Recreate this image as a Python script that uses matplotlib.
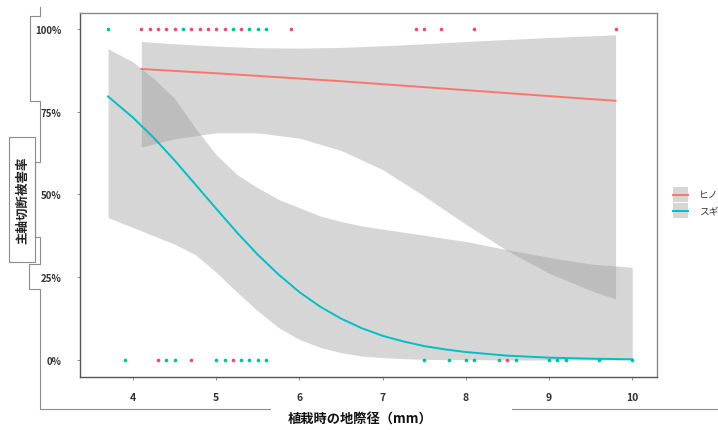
import matplotlib
matplotlib.use("Agg")
import matplotlib.pyplot as plt
from matplotlib.lines import Line2D
from matplotlib.patches import Rectangle

plt.rcParams['font.family'] = ['Noto Sans CJK JP', 'DejaVu Sans']

# ---- observations (0 = intact, 1 = main stem cut) ----
hinoki_cut_x = [4.1, 4.2, 4.3, 4.4, 4.5, 4.7, 4.8, 4.9, 5.0, 5.1, 5.3, 5.9,
                7.4, 7.5, 7.7, 8.1, 9.8]
hinoki_ok_x = [4.3, 4.7, 5.2, 8.5]
sugi_cut_x = [3.7, 4.6, 5.2, 5.4, 5.5, 5.6]
sugi_ok_x = [3.9, 4.4, 4.5, 5.0, 5.1, 5.3, 5.4, 5.5, 5.6, 7.5, 7.8, 8.0, 8.1,
             8.4, 8.6, 9.0, 9.1, 9.2, 9.6, 10.0]

# ---- fitted curves with confidence bands ----
hinoki_x = [4.1, 4.5, 5.0, 5.5, 6.0, 6.5, 7.0, 7.5, 8.0, 8.5, 9.0, 9.5, 9.8]
hinoki_fit = [0.879, 0.873, 0.866, 0.858, 0.850, 0.842, 0.833, 0.824, 0.815,
              0.806, 0.797, 0.788, 0.783]
hinoki_hi = [0.962, 0.955, 0.948, 0.943, 0.942, 0.944, 0.949, 0.955, 0.962,
             0.968, 0.974, 0.979, 0.982]
hinoki_lo = [0.643, 0.668, 0.686, 0.686, 0.670, 0.633, 0.575, 0.495, 0.410,
             0.330, 0.262, 0.210, 0.184]

sugi_x = [3.7, 4.0, 4.25, 4.5, 4.75, 5.0, 5.25, 5.5, 5.75, 6.0, 6.25, 6.5,
          6.75, 7.0, 7.25, 7.5, 7.75, 8.0, 8.5, 9.0, 9.5, 10.0]
sugi_fit = [0.796, 0.732, 0.671, 0.603, 0.530, 0.457, 0.385, 0.318, 0.258,
            0.205, 0.161, 0.125, 0.096, 0.073, 0.056, 0.042, 0.032, 0.024,
            0.013, 0.007, 0.004, 0.002]
sugi_hi = [0.940, 0.900, 0.850, 0.790, 0.700, 0.620, 0.560, 0.520, 0.485,
           0.460, 0.435, 0.418, 0.405, 0.395, 0.386, 0.377, 0.367, 0.358,
           0.333, 0.310, 0.290, 0.280]
sugi_lo = [0.430, 0.400, 0.375, 0.350, 0.318, 0.265, 0.205, 0.148, 0.098,
           0.062, 0.038, 0.022, 0.012, 0.007, 0.004, 0.002, 0.001, 0.001,
           0.0, 0.0, 0.0, 0.0]

yticks = [0, 0.25, 0.5, 0.75, 1.0]
ytick_labels = ['0%', '25%', '50%', '75%', '100%']
xticks = [4, 5, 6, 7, 8, 9, 10]
species = ['ヒノキ', 'スギ']

line_col = {'ヒノキ': '#F8766D', 'スギ': '#00BFC4'}
dot_col = {'ヒノキ': '#EC4C7C', 'スギ': '#00BF9C'}
band_col = '#999999'

W, H = 718, 431
fig = plt.figure(figsize=(W / 100, H / 100), dpi=100)
ax = fig.add_axes([80 / W, 1 - 378 / H, 577 / W, 364 / H])

ax.fill_between(hinoki_x, hinoki_lo, hinoki_hi, color=band_col, alpha=0.4,
                linewidth=0)
ax.fill_between(sugi_x, sugi_lo, sugi_hi, color=band_col, alpha=0.4,
                linewidth=0)
ax.plot(hinoki_x, hinoki_fit, color=line_col['ヒノキ'], lw=1.4)
ax.plot(sugi_x, sugi_fit, color=line_col['スギ'], lw=1.4)

ax.scatter(hinoki_cut_x, [1] * len(hinoki_cut_x), s=7, color=dot_col['ヒノキ'],
           linewidths=0, zorder=4)
ax.scatter(hinoki_ok_x, [0] * len(hinoki_ok_x), s=7, color=dot_col['ヒノキ'],
           linewidths=0, zorder=4)
ax.scatter(sugi_cut_x, [1] * len(sugi_cut_x), s=7, color=dot_col['スギ'],
           linewidths=0, zorder=4)
ax.scatter(sugi_ok_x, [0] * len(sugi_ok_x), s=7, color=dot_col['スギ'],
           linewidths=0, zorder=4)

ax.set_xlim(3.363, 10.298)
ax.set_ylim(-0.0514, 1.048)
ax.set_xticks(xticks)
ax.set_xticklabels([str(t) for t in xticks], fontsize=7.5, fontweight='bold',
                   color='#333333')
ax.set_yticks(yticks)
ax.set_yticklabels(ytick_labels, fontsize=7, fontweight='bold', color='#333333')
ax.tick_params(axis='both', length=2.5, width=0.6, color='#777777')
ax.tick_params(axis='y', pad=11)
ax.tick_params(axis='x', pad=8)
for side in ['left', 'bottom']:
    ax.spines[side].set_color('#555555')
    ax.spines[side].set_linewidth(1.0)
for side in ['top', 'right']:
    ax.spines[side].set_color('#8a8a8a')
    ax.spines[side].set_linewidth(1.0)


def fx(px):
    return px / W


def fy(py):
    return 1 - py / H


# axis titles
fig.text(fx(360), fy(419), '植栽時の地際径（mm）', ha='center', va='center',
         fontsize=9.5, fontweight='bold', color='#111111')
fig.text(fx(23), fy(200), '主軸切断被害率', ha='center', va='center',
         rotation=90, fontsize=9, fontweight='bold', color='#222222')

# outline framing the axis titles
frame = [(40, 8), (40, 17), (30, 17), (30, 102), (40, 102), (40, 163),
         (35, 163), (35, 238), (40, 238), (40, 265), (29, 265), (29, 290),
         (40, 290), (40, 410), (270, 410)]
fig.add_artist(Line2D([fx(p[0]) for p in frame], [fy(p[1]) for p in frame],
                      color='#8c8c8c', lw=0.8))
fig.add_artist(Line2D([fx(512), fx(718)], [fy(410), fy(410)],
                      color='#8c8c8c', lw=0.8))
fig.add_artist(Rectangle((fx(9), fy(263)), fx(35) - fx(9), fy(138) - fy(263),
                         fill=False, edgecolor='#8c8c8c', lw=0.8))

# legend keys
for i, name in enumerate(species):
    top = 188 + i * 16
    fig.add_artist(Rectangle((fx(673), fy(top + 15)), fx(688) - fx(673),
                             fy(top) - fy(top + 15), facecolor='#D6D6D6',
                             edgecolor='none'))
    fig.add_artist(Line2D([fx(673), fx(688)], [fy(top + 7.5), fy(top + 7.5)],
                          color=line_col[name], lw=1.4))
    fig.text(fx(699), fy(top + 7.5), name, ha='left', va='center',
             fontsize=7, color='#333333')

fig.savefig('out.png', dpi=100)
